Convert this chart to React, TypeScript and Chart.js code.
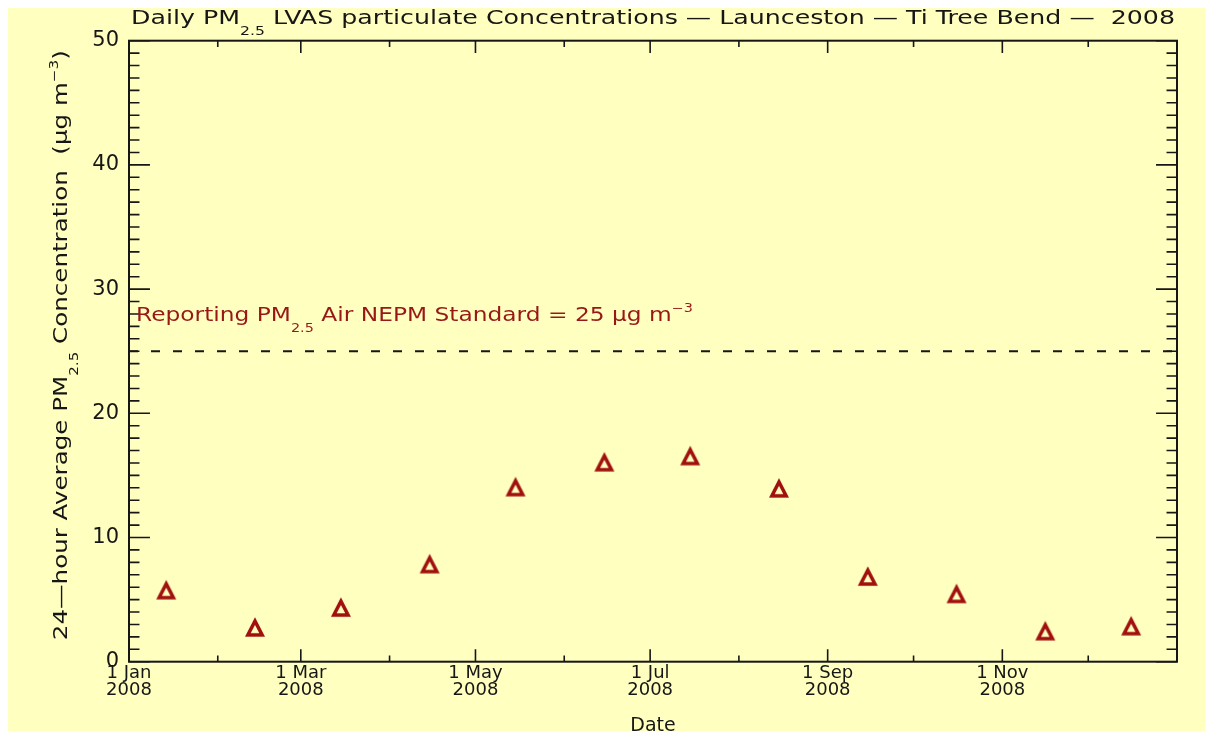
import React, { useEffect, useRef } from 'react';
import { Chart, registerables } from 'chart.js';

Chart.register(...registerables);

const FONT = '"DejaVu Sans", sans-serif';

const AXIS_START = '2008-01-01';
const AXIS_END = '2009-01-01';

const sampleDates = [
  '2008-01-14', '2008-02-14', '2008-03-15', '2008-04-15', '2008-05-15', '2008-06-15',
  '2008-07-15', '2008-08-15', '2008-09-15', '2008-10-16', '2008-11-16', '2008-12-16',
];
const pm25Values = [5.8, 2.8, 4.4, 7.9, 14.1, 16.1, 16.6, 14.0, 6.9, 5.5, 2.5, 2.9];

const standardValue = 25;

const majorTickDates = ['2008-01-01', '2008-03-01', '2008-05-01', '2008-07-01', '2008-09-01', '2008-11-01'];
const majorTickLabels: string[][] = [
  ['1 Jan', '2008'], ['1 Mar', '2008'], ['1 May', '2008'],
  ['1 Jul', '2008'], ['1 Sep', '2008'], ['1 Nov', '2008'],
];
const minorTickDates = ['2008-02-01', '2008-04-01', '2008-06-01', '2008-08-01', '2008-10-01', '2008-12-01'];

const yMin = 0;
const yMax = 50;
const yMajorStep = 10;
const yMinorStep = 1;

type Seg = { t: string; k?: 'sub' | 'sup' };
const titleSegments: Seg[] = [
  { t: 'Daily PM' }, { t: '2.5', k: 'sub' },
  { t: ' LVAS particulate Concentrations — Launceston — Ti Tree Bend —  2008' },
];
const yTitleSegments: Seg[] = [
  { t: '24—hour Average PM' }, { t: '2.5', k: 'sub' },
  { t: ' Concentration  (μg m' }, { t: '−3', k: 'sup' }, { t: ')' },
];
const standardLabelSegments: Seg[] = [
  { t: 'Reporting PM' }, { t: '2.5', k: 'sub' },
  { t: ' Air NEPM Standard = 25 μg m' }, { t: '−3', k: 'sup' },
];
const xTitle = 'Date';

const dayOf = (d: string) =>
  (Date.parse(d + 'T00:00:00Z') - Date.parse(AXIS_START + 'T00:00:00Z')) / 86400000;

const BG = '#ffffbf';
const INK = '#161616';
const RED = '#a0100e';
const LABEL_RED = '#981818';

function drawRich(
  ctx: CanvasRenderingContext2D,
  segs: Seg[],
  x: number,
  y: number,
  o: { size: number; color: string; align: 'left' | 'center'; width?: number; rotate?: number }
) {
  const small = o.size * 0.62;
  const fontFor = (k?: string) => `${k ? small : o.size}px ${FONT}`;
  let W = 0;
  const widths = segs.map((s) => {
    ctx.font = fontFor(s.k);
    const w = ctx.measureText(s.t).width;
    W += w;
    return w;
  });
  const sx = o.width ? o.width / W : 1;
  ctx.save();
  ctx.translate(x, y);
  if (o.rotate) ctx.rotate(o.rotate);
  ctx.scale(sx, 1);
  ctx.fillStyle = o.color;
  ctx.textBaseline = 'alphabetic';
  ctx.textAlign = 'left';
  let cx = o.align === 'center' ? -W / 2 : 0;
  segs.forEach((s, i) => {
    ctx.font = fontFor(s.k);
    const dy = s.k === 'sub' ? o.size * 0.58 : s.k === 'sup' ? -o.size * 0.45 : 0;
    ctx.fillText(s.t, cx, dy);
    cx += widths[i];
  });
  ctx.restore();
}

function makeTriangle(): HTMLCanvasElement {
  const c = document.createElement('canvas');
  c.width = 22;
  c.height = 22;
  const g = c.getContext('2d')!;
  const A = [11, 1.2], B = [1, 20.8], C = [21, 20.8];
  const side = Math.hypot(A[0] - B[0], A[1] - B[1]);
  const base = C[0] - B[0];
  const per = 2 * side + base;
  const area = 0.5 * base * (B[1] - A[1]);
  const r = area / (per / 2);
  const I = [11, B[1] - r];
  const t = 3.5;
  const k = (r - t) / r;
  const inner = [A, B, C].map((p) => [I[0] + k * (p[0] - I[0]), I[1] + k * (p[1] - I[1])]);
  g.fillStyle = RED;
  g.beginPath();
  g.moveTo(A[0], A[1]);
  g.lineTo(B[0], B[1]);
  g.lineTo(C[0], C[1]);
  g.closePath();
  g.moveTo(inner[0][0], inner[0][1]);
  g.lineTo(inner[2][0], inner[2][1]);
  g.lineTo(inner[1][0], inner[1][1]);
  g.closePath();
  g.fill('evenodd');
  return c;
}

const decorPlugin = {
  id: 'decor',
  beforeDraw(chart: any) {
    const ctx = chart.ctx as CanvasRenderingContext2D;
    ctx.save();
    ctx.fillStyle = BG;
    ctx.fillRect(0, 0, chart.width, chart.height);
    ctx.restore();
  },
  afterDraw(chart: any) {
    const ctx = chart.ctx as CanvasRenderingContext2D;
    const { left, right, top, bottom } = chart.chartArea;
    const xs = chart.scales.x;
    const ys = chart.scales.y;
    const h = bottom - top;
    const w = right - left;
    ctx.save();
    ctx.strokeStyle = INK;
    ctx.lineWidth = 1.6;
    ctx.beginPath();
    const xTick = (v: number, len: number) => {
      const px = xs.getPixelForValue(v);
      ctx.moveTo(px, bottom);
      ctx.lineTo(px, bottom - len);
      ctx.moveTo(px, top);
      ctx.lineTo(px, top + len);
    };
    majorTickDates.forEach((d) => xTick(dayOf(d), h * 0.02));
    minorTickDates.forEach((d) => xTick(dayOf(d), h * 0.01));
    for (let v = yMin; v <= yMax + 1e-9; v += yMinorStep) {
      const major = Math.abs(v / yMajorStep - Math.round(v / yMajorStep)) < 1e-6;
      const len = major ? w * 0.02 : w * 0.01;
      const py = ys.getPixelForValue(v);
      ctx.moveTo(left, py);
      ctx.lineTo(left + len, py);
      ctx.moveTo(right, py);
      ctx.lineTo(right - len, py);
    }
    ctx.stroke();
    ctx.lineWidth = 2;
    ctx.strokeRect(left, top, w, h);
    ctx.restore();

    drawRich(ctx, titleSegments, (left + right) / 2, 16, { size: 19, color: INK, align: 'center', width: 1044 });
    drawRich(ctx, yTitleSegments, 59, (top + bottom) / 2 - 6, {
      size: 19, color: INK, align: 'center', width: 590, rotate: -Math.PI / 2,
    });
    drawRich(ctx, standardLabelSegments, left + 7, 313, { size: 19, color: LABEL_RED, align: 'left', width: 557 });
    drawRich(ctx, [{ t: xTitle }], (left + right) / 2, 723, { size: 19, color: INK, align: 'center' });
  },
};

export default function App() {
  const ref = useRef<HTMLCanvasElement | null>(null);
  useEffect(() => {
    document.documentElement.style.overflow = 'hidden';
    document.body.style.overflow = 'hidden';
    if (!ref.current) return;
    const tri = makeTriangle();
    const xMax = dayOf(AXIS_END);
    const majorDays = majorTickDates.map(dayOf);
    const chart = new Chart(ref.current, {
      type: 'scatter',
      data: {
        datasets: [
          {
            type: 'line',
            data: [
              { x: 0, y: standardValue },
              { x: xMax, y: standardValue },
            ],
            borderColor: INK,
            borderWidth: 2,
            borderDash: [9, 13],
            pointRadius: 0,
            fill: false,
          } as any,
          {
            type: 'scatter',
            data: sampleDates.map((d, i) => ({ x: dayOf(d), y: pm25Values[i] })),
            pointStyle: tri as any,
            pointRadius: 10,
            backgroundColor: RED,
            borderColor: RED,
          } as any,
        ],
      },
      options: {
        responsive: false,
        animation: false,
        events: [],
        layout: { padding: { left: 0, right: 28, top: 32.7, bottom: 0 } },
        plugins: {
          legend: { display: false },
          tooltip: { enabled: false },
          title: { display: false },
        },
        scales: {
          x: {
            type: 'linear',
            min: 0,
            max: xMax,
            grid: { display: false, drawTicks: false },
            border: { display: false },
            afterBuildTicks: (ax: any) => {
              ax.ticks = majorDays.map((v) => ({ value: v }));
            },
            afterFit: (ax: any) => {
              ax.height = 69.3;
            },
            ticks: {
              autoSkip: false,
              maxRotation: 0,
              minRotation: 0,
              padding: 3,
              color: INK,
              font: { family: FONT, size: 18, lineHeight: 0.95 },
              callback: (v: any) => {
                const i = majorDays.findIndex((d) => Math.abs(d - Number(v)) < 1e-6);
                return i >= 0 ? majorTickLabels[i] : '';
              },
            },
          },
          y: {
            type: 'linear',
            min: yMin,
            max: yMax,
            grid: { display: false, drawTicks: false },
            border: { display: false },
            afterFit: (ax: any) => {
              ax.width = 121;
            },
            ticks: {
              stepSize: yMajorStep,
              padding: 10,
              color: INK,
              font: { family: FONT, size: 21 },
            },
          },
        },
      } as any,
      plugins: [decorPlugin],
    });
    return () => chart.destroy();
  }, []);
  return (
    <div style={{ position: 'fixed', left: 8, top: 8, width: 1197, height: 723, overflow: 'hidden' }}>
      <canvas ref={ref} width={1197} height={723} style={{ display: 'block' }} />
    </div>
  );
}
